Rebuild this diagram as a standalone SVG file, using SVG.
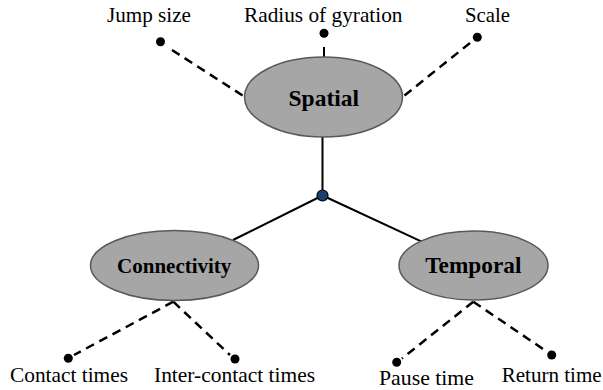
<svg xmlns="http://www.w3.org/2000/svg" width="603" height="390" viewBox="0 0 603 390">
<style>
.node{fill:#a6a6a6;stroke:#595959;stroke-width:1.5}
.solid{stroke:#000;stroke-width:2;fill:none}
.dash{stroke:#000;stroke-width:2.5;stroke-dasharray:9 6;fill:none}
.dot{fill:#000}
.lbl{font-family:'Liberation Serif','DejaVu Serif',serif;font-weight:400;font-style:normal;font-size:21px;fill:#000}
.title{font-family:'Liberation Serif','DejaVu Serif',serif;font-weight:bold;fill:#000;text-anchor:middle}
</style>
<rect width="603" height="390" fill="#fff"/>
<g id="connectors">
<line class="solid" x1="322.5" y1="195.5" x2="322.5" y2="137"/>
<line class="solid" x1="322.5" y1="195.5" x2="233" y2="240"/>
<line class="solid" x1="322.5" y1="195.5" x2="421.7" y2="241.7"/>
<line class="solid" x1="324" y1="47" x2="324" y2="57"/>
<line class="dash" x1="172" y1="50" x2="245" y2="97"/>
<line class="dash" x1="470" y1="43" x2="403" y2="96.7"/>
<line class="dash" x1="173.3" y1="301.7" x2="74" y2="355"/>
<line class="dash" x1="173.3" y1="301.7" x2="230" y2="355"/>
<line class="dash" x1="473.3" y1="301.7" x2="402" y2="358.5"/>
<line class="dash" x1="473.3" y1="301.7" x2="546" y2="351"/>
</g>
<g id="hub"><circle cx="322.5" cy="195.5" r="5.5" fill="#1d3f6e" stroke="#000" stroke-width="1.2"/></g>
<g id="spatial">
<ellipse class="node" cx="323.5" cy="97" rx="79" ry="40"/>
<text class="title" x="323.8" y="106" font-size="23.5">Spatial</text>
</g>
<g id="connectivity">
<ellipse class="node" cx="174.5" cy="265.5" rx="84" ry="35"/>
<text class="title" x="174.2" y="273.3" font-size="21">Connectivity</text>
</g>
<g id="temporal">
<ellipse class="node" cx="473.5" cy="265.5" rx="74.5" ry="34.5"/>
<text class="title" x="473.3" y="273.3" font-size="23.3">Temporal</text>
</g>
<g id="jump-size">
<circle class="dot" cx="160.5" cy="41.7" r="4.5"/>
<text class="lbl" x="107" y="21.5" textLength="84" lengthAdjust="spacingAndGlyphs">Jump size</text>
</g>
<g id="radius-of-gyration">
<circle class="dot" cx="324" cy="33.3" r="4.5"/>
<text class="lbl" x="244" y="21.5" textLength="158.5" lengthAdjust="spacingAndGlyphs">Radius of gyration</text>
</g>
<g id="scale">
<circle class="dot" cx="477.3" cy="37.3" r="4.5"/>
<text class="lbl" x="465" y="22" textLength="45" lengthAdjust="spacingAndGlyphs">Scale</text>
</g>
<g id="contact-times">
<circle class="dot" cx="68.3" cy="358.3" r="4.5"/>
<text class="lbl" x="10" y="381.7" textLength="118" lengthAdjust="spacingAndGlyphs">Contact times</text>
</g>
<g id="inter-contact-times">
<circle class="dot" cx="235" cy="359" r="4.5"/>
<text class="lbl" x="154" y="381.7" textLength="161" lengthAdjust="spacingAndGlyphs">Inter-contact times</text>
</g>
<g id="pause-time">
<circle class="dot" cx="396.7" cy="362.3" r="4.5"/>
<text class="lbl" x="379" y="385" textLength="95" lengthAdjust="spacingAndGlyphs">Pause time</text>
</g>
<g id="return-time">
<circle class="dot" cx="551.7" cy="355" r="4.5"/>
<text class="lbl" x="501.7" y="381.7" textLength="100" lengthAdjust="spacingAndGlyphs">Return time</text>
</g>
</svg>
